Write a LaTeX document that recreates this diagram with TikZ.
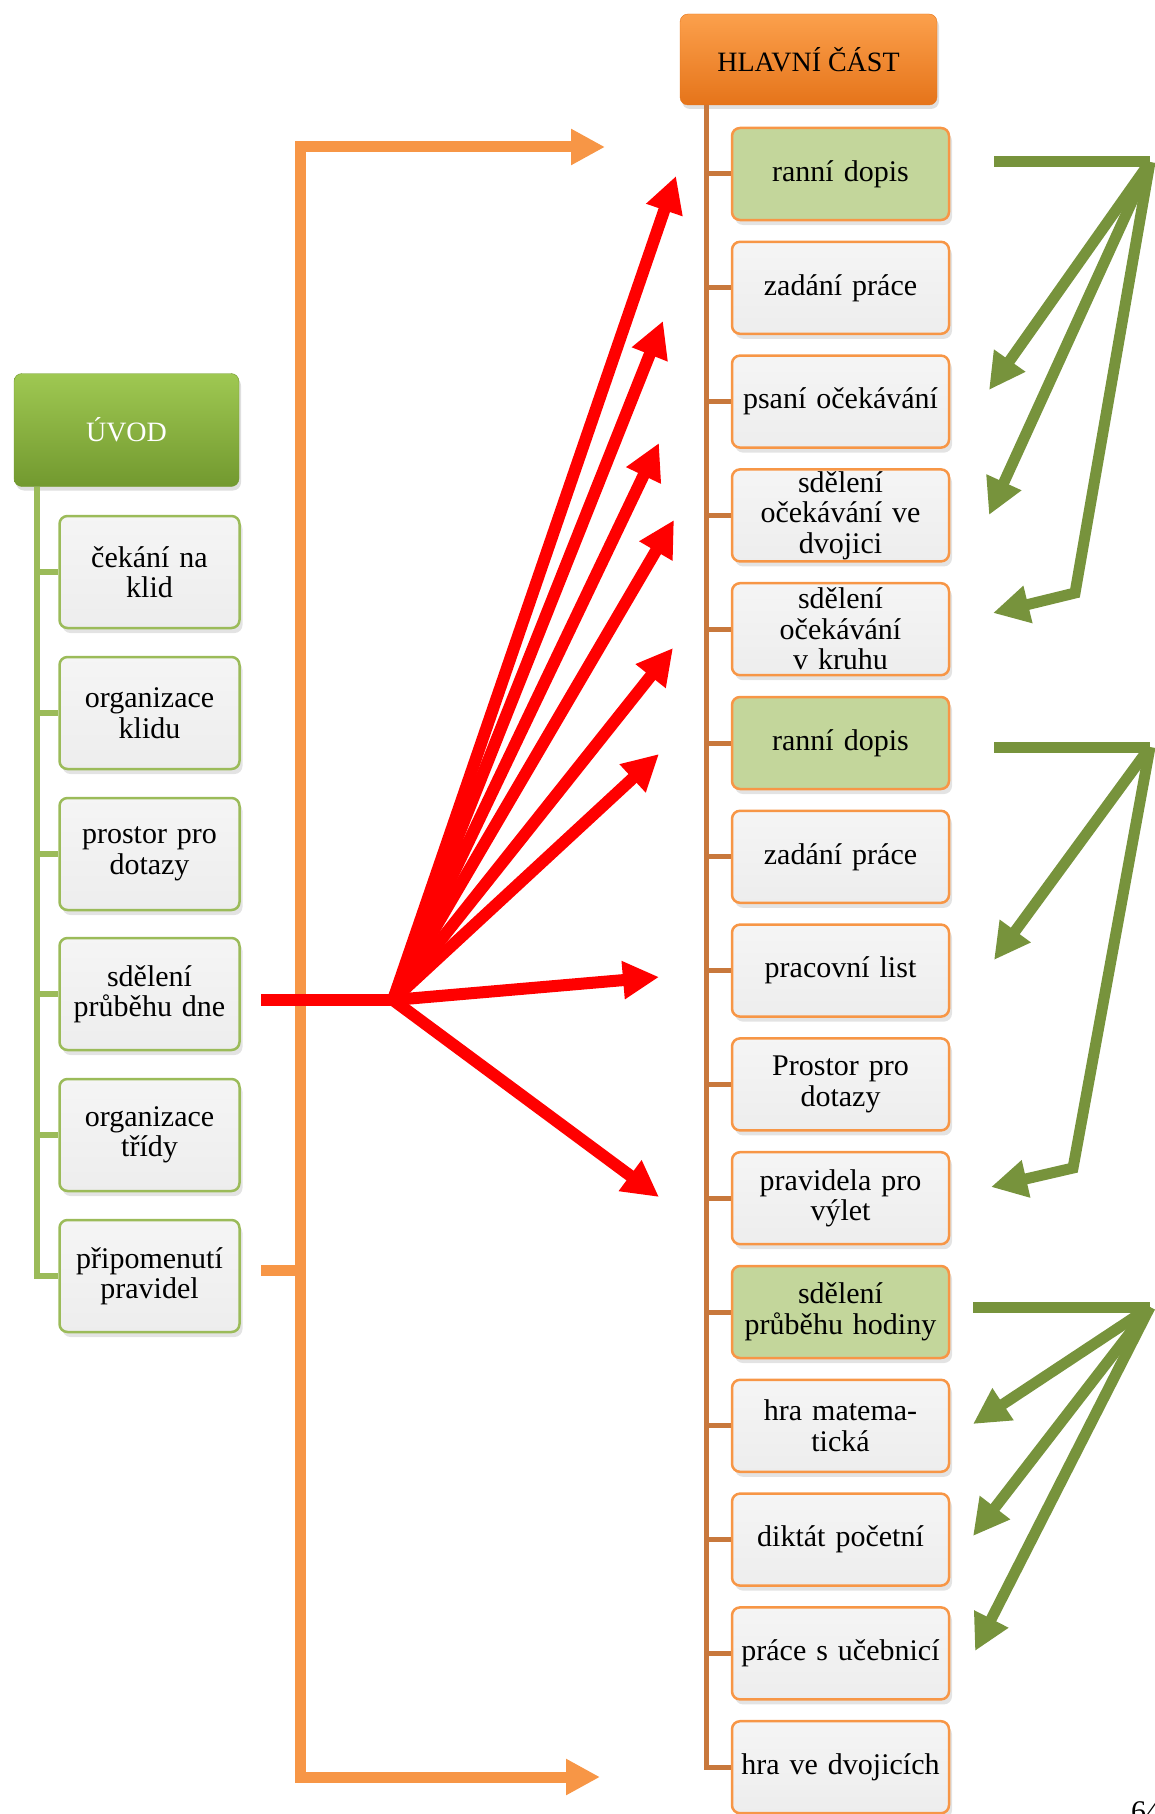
\documentclass[tikz,border=0pt]{standalone}
\usepackage{fontspec}
\setmainfont{Liberation Serif}
\usetikzlibrary{arrows.meta, shadows}

\definecolor{uvodtop}{HTML}{9FC852}
\definecolor{uvodbot}{HTML}{72992F}
\definecolor{hlavtop}{HTML}{FCA04C}
\definecolor{hlavbot}{HTML}{E5741A}
\definecolor{leftline}{HTML}{9BBB59}
\definecolor{rightline}{HTML}{C8783C}
\definecolor{boxorange}{HTML}{F79646}
\definecolor{boxgreen}{HTML}{C3D69B}
\definecolor{arrowgreen}{HTML}{77933C}
\definecolor{arrowred}{HTML}{FF0000}

\begin{document}
\begin{tikzpicture}[x=1pt, y=-1pt,
    headbox/.style={rounded corners=8pt, inner sep=0pt, font=\fontsize{28}{30}\selectfont,
        drop shadow={opacity=0.25, shadow xshift=2pt, shadow yshift=-4pt}},
    uvodhead/.style={headbox, draw=uvodbot, top color=uvodtop, bottom color=uvodbot,
        text=white, minimum width=225pt, minimum height=113pt},
    hlavhead/.style={headbox, draw=hlavbot, top color=hlavtop, bottom color=hlavbot,
        minimum width=257pt, minimum height=91pt},
    itembox/.style={rounded corners=8pt, line width=2.5pt, inner ysep=0pt, inner xsep=5pt,
        align=center, font=\fontsize{30}{30.5}\selectfont, top color=white!96!black,
        bottom color=white!93!black,
        drop shadow={opacity=0.22, shadow xshift=3pt, shadow yshift=-5pt}},
    leftbox/.style={itembox, draw=leftline, text width=170pt, minimum height=112pt},
    rightbox/.style={itembox, draw=boxorange, text width=207pt, minimum height=92pt},
    greenbox/.style={rightbox, top color=boxgreen, bottom color=boxgreen},
    leftconn/.style={draw=leftline, line width=6pt},
    rightconn/.style={draw=rightline, line width=5pt},
    orangearrow/.style={draw=boxorange, line width=11pt, {Triangle[length=34pt,width=34pt]}-{Triangle[length=34pt,width=34pt]}},
    orangeline/.style={draw=boxorange, line width=11pt},
    redline/.style={draw=arrowred, line width=12pt},
    redarrow/.style={redline, -{Triangle[length=36pt,width=36pt]}},
    greenline/.style={draw=arrowgreen, line width=11pt},
    greenarrow/.style={greenline, line join=miter, -{Triangle[length=36pt,width=36pt]}}]

    \useasboundingbox (0,0) rectangle (1154,1814);

    % ÚVOD column
    \node[uvodhead] (uvod) at (126.5,430) {ÚVOD};
    \node[leftbox] (l1) at (149.5,572) {čekání na\\klid};
    \node[leftbox] (l2) at (149.5,713) {organizace\\klidu};
    \node[leftbox] (l3) at (149.5,854) {prostor pro\\dotazy};
    \node[leftbox] (l4) at (149.5,994) {sdělení\\průběhu dne};
    \node[leftbox] (l5) at (149.5,1135) {organizace\\třídy};
    \node[leftbox] (l6) at (149.5,1276) {připomenutí\\pravidel};

    \foreach \i in {1,...,6}
        \draw[leftconn] ([xshift=23pt]uvod.south west) |- (l\i.west);

    % HLAVNÍ ČÁST column
    \node[hlavhead] (hlavni) at (808.5,59.5) {HLAVNÍ ČÁST};
    \node[greenbox] (r1) at (840.5,174) {ranní dopis};
    \node[rightbox] (r2) at (840.5,287.8) {zadání práce};
    \node[rightbox] (r3) at (840.5,401.6) {psaní očekávání};
    \node[rightbox] (r4) at (840.5,515.4) {sdělení\\očekávání ve\\dvojici};
    \node[rightbox] (r5) at (840.5,629.2) {sdělení\\očekávání\\v kruhu};
    \node[greenbox] (r6) at (840.5,743) {ranní dopis};
    \node[rightbox] (r7) at (840.5,856.8) {zadání práce};
    \node[rightbox] (r8) at (840.5,970.6) {pracovní list};
    \node[rightbox] (r9) at (840.5,1084.4) {Prostor pro\\dotazy};
    \node[rightbox] (r10) at (840.5,1198.2) {pravidela pro\\výlet};
    \node[greenbox] (r11) at (840.5,1312) {sdělení\\průběhu hodiny};
    \node[rightbox] (r12) at (840.5,1425.8) {hra matema-\\tická};
    \node[rightbox] (r13) at (840.5,1539.6) {diktát početní};
    \node[rightbox] (r14) at (840.5,1653.4) {práce s učebnicí};
    \node[rightbox] (r15) at (840.5,1767.2) {hra ve dvojicích};

    \foreach \i in {1,...,15}
        \draw[rightconn] ([xshift=27pt]hlavni.south west) |- (r\i.west);

    % orange bracket
    \coordinate (otop) at (605,147);
    \coordinate (obot) at (600,1777);
    \coordinate (otick) at (261,1270);
    \draw[orangearrow] (otop) -- (300,147) -- (300,1777) -- (obot);
    \draw[orangeline] (otick) -- (300,1270);

    % red fan
    \coordinate (redstart) at (261,1000);
    \coordinate (redhub) at (393,1000);
    \coordinate (red1) at (676,176);
    \coordinate (red2) at (663,321);
    \coordinate (red3) at (659,443);
    \coordinate (red4) at (674,520);
    \coordinate (red5) at (673,648);
    \coordinate (red6) at (659,754);
    \coordinate (red7) at (659,977);
    \coordinate (red8) at (659,1197);
    \draw[redline] (redstart) -- (redhub);
    \foreach \i in {1,...,8}
        \draw[redarrow] (redhub) -- (red\i);

    % green arrows, first group
    \coordinate (g1start) at (994,162);
    \coordinate (g1top) at (1150,162);
    \coordinate (g1a) at (989,390);
    \coordinate (g1b) at (989,515);
    \coordinate (g1bend) at (1075,593);
    \coordinate (g1c) at (993,613);
    \draw[greenline] (g1start) -- (g1top);
    \draw[greenarrow] (g1top) -- (g1a);
    \draw[greenarrow] (g1top) -- (g1b);
    \draw[greenarrow] (g1top) -- (g1bend) -- (g1c);

    % second group
    \coordinate (g2start) at (994,747);
    \coordinate (g2top) at (1150,747);
    \coordinate (g2a) at (994,960);
    \coordinate (g2bend) at (1073,1168);
    \coordinate (g2c) at (991,1187);
    \draw[greenline] (g2start) -- (g2top);
    \draw[greenarrow] (g2top) -- (g2a);
    \draw[greenarrow] (g2top) -- (g2bend) -- (g2c);

    % third group
    \coordinate (g3start) at (973,1307);
    \coordinate (g3top) at (1150,1307);
    \coordinate (g3a) at (973,1424);
    \coordinate (g3b) at (973,1536);
    \coordinate (g3c) at (975,1651);
    \draw[greenline] (g3start) -- (g3top);
    \draw[greenarrow] (g3top) -- (g3a);
    \draw[greenarrow] (g3top) -- (g3b);
    \draw[greenarrow] (g3top) -- (g3c);

    % page number
    \node[anchor=north west, inner sep=0pt, font=\fontsize{30}{30}\selectfont] (pagenum) at (1131,1801) {64};
\end{tikzpicture}
\end{document}
